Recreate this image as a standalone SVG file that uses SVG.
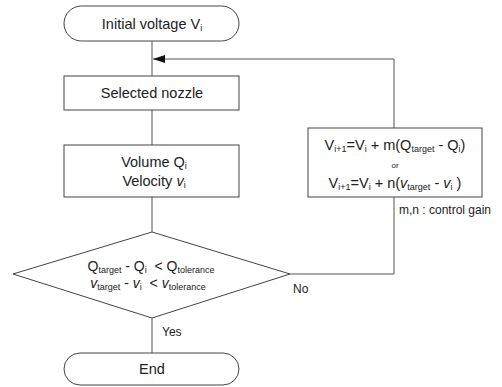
<svg xmlns="http://www.w3.org/2000/svg" width="502" height="387" viewBox="0 0 502 387">
<style>
.shape{fill:#fff;stroke:#444;stroke-width:1}
.conn{fill:none;stroke:#555;stroke-width:1}
text{font-family:"Liberation Sans",Arial,sans-serif;fill:#222}
.t{font-size:14.5px;text-anchor:middle}
.s{font-size:9px}
.sm{font-size:12px}
</style>
<defs>
<marker id="arr" markerWidth="12" markerHeight="8" refX="12" refY="4" orient="auto" markerUnits="userSpaceOnUse">
<path d="M0,0 L12,4 L0,8 Z" fill="#111"/>
</marker>
</defs>
<g id="connectors">
<line class="conn" x1="152" y1="41" x2="152" y2="76"/>
<line class="conn" x1="152" y1="110" x2="152" y2="145"/>
<line class="conn" x1="152" y1="197" x2="152" y2="232"/>
<line class="conn" x1="152" y1="318" x2="152" y2="353"/>
<polyline class="conn" points="290,274 394,274 394,197"/>
<polyline class="conn" points="394,128 394,59 153,59" marker-end="url(#arr)"/>
</g>
<g id="start">
<rect class="shape" x="64" y="6" width="175" height="35" rx="17.5" ry="17.5"/>
<text class="t" x="152" y="29">Initial voltage V<tspan class="s" dy="2">i</tspan></text>
</g>
<g id="nozzle">
<rect class="shape" x="64" y="76" width="175" height="34"/>
<text class="t" x="152" y="98">Selected nozzle</text>
</g>
<g id="volume">
<rect class="shape" x="64" y="145" width="175" height="52"/>
<text class="t" x="154" y="167">Volume Q<tspan class="s" dy="2">i</tspan></text>
<text class="t" x="154" y="186">Velocity <tspan font-style="italic">v</tspan><tspan class="s" dy="2">i</tspan></text>
</g>
<g id="decision">
<polygon class="shape" points="152,232 290,274 152,318 13,274"/>
<text class="t" x="151" y="271" style="font-size:14px">Q<tspan class="s" dy="2">target</tspan><tspan dy="-2"> - Q</tspan><tspan class="s" dy="2">i</tspan><tspan dy="-2">&#160; &lt; Q</tspan><tspan class="s" dy="2">tolerance</tspan></text>
<text class="t" x="148" y="288" style="font-size:14px"><tspan font-style="italic">v</tspan><tspan class="s" dy="2">target</tspan><tspan dy="-2"> - </tspan><tspan font-style="italic">v</tspan><tspan class="s" dy="2">i</tspan><tspan dy="-2">&#160; &lt; </tspan><tspan font-style="italic">v</tspan><tspan class="s" dy="2">tolerance</tspan></text>
</g>
<g id="feedback">
<rect class="shape" x="308" y="128" width="174" height="69"/>
<text class="t" x="395" y="150">V<tspan class="s" dy="2">i+1</tspan><tspan dy="-2">=V</tspan><tspan class="s" dy="2">i</tspan><tspan dy="-2"> + m(Q</tspan><tspan class="s" dy="2">target</tspan><tspan dy="-2"> - Q</tspan><tspan class="s" dy="2">i</tspan><tspan dy="-2">)</tspan></text>
<text x="395" y="168" style="font-size:8px;text-anchor:middle">or</text>
<text class="t" x="395" y="188">V<tspan class="s" dy="2">i+1</tspan><tspan dy="-2">=V</tspan><tspan class="s" dy="2">i</tspan><tspan dy="-2"> + n(</tspan><tspan font-style="italic">v</tspan><tspan class="s" dy="2">target</tspan><tspan dy="-2"> - </tspan><tspan font-style="italic">v</tspan><tspan class="s" dy="2">i</tspan><tspan dy="-2"> )</tspan></text>
</g>
<g id="end">
<rect class="shape" x="64" y="353" width="175" height="32" rx="16" ry="16"/>
<text class="t" x="152" y="374">End</text>
</g>
<g id="labels">
<text class="sm" x="162" y="336">Yes</text>
<text class="sm" x="293" y="293">No</text>
<text class="sm" x="399" y="214">m,n : control gain</text>
</g>
</svg>
